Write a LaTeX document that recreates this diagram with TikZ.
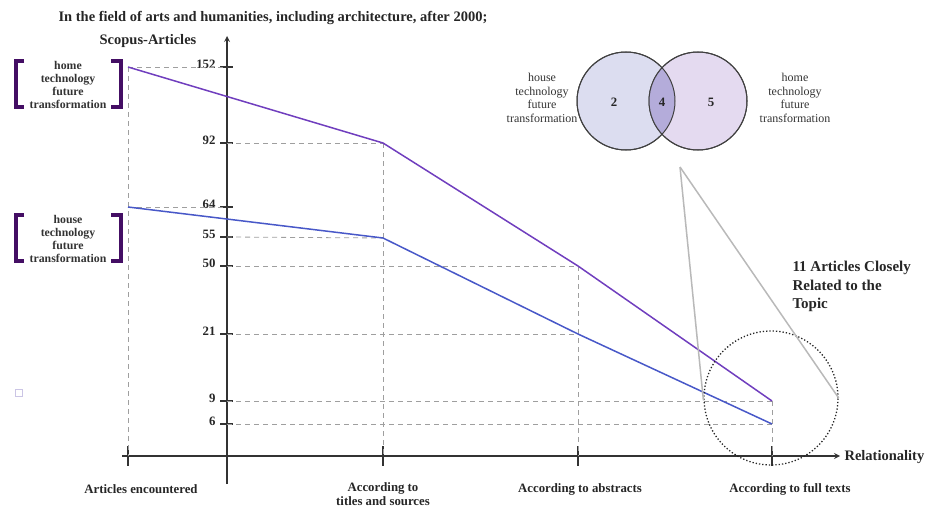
\documentclass[tikz,border=0pt]{standalone}
\usepackage{fontspec}
\setmainfont{Liberation Serif}
\usetikzlibrary{calc}

\definecolor{purpleline}{RGB}{112,62,190}
\definecolor{blueline}{RGB}{72,88,200}
\definecolor{bracketcol}{RGB}{68,14,100}
\definecolor{vennleft}{RGB}{220,221,240}
\definecolor{vennright}{RGB}{228,218,240}
\definecolor{vennmid}{RGB}{180,172,218}

\tikzset{
	axisline/.style = {line width = 1.6pt, draw = black!80},
	guide/.style = {draw = gray!75, line width = 0.8pt, dash pattern = on 5pt off 4pt},
	boldlabel/.style = {font = \bfseries\fontsize{12.8}{13.5}\selectfont, text = black!85},
	biglabel/.style = {font = \bfseries\fontsize{14.5}{16}\selectfont, text = black!85},
	termbox/.style = {font = \bfseries\fontsize{11.8}{13.2}\selectfont, align = center, text = black!80},
	vennterms/.style = {font = \fontsize{12}{13.7}\selectfont, align = center, text = black!80},
	bracket/.style = {draw = bracketcol, line width = 3.5pt},
	venn/.style = {circle, minimum size = 98pt, inner sep = 0pt, draw = black!75, line width = 1pt}
}

\begin{document}
\begin{tikzpicture}[x = 1pt, y = -1pt]
		\useasboundingbox (0,0) rectangle (925,508);
		
		% title and axis names
		\node [biglabel, anchor = west] (title) at (55,18) {In the field of arts and humanities, including architecture, after 2000;};
		\node [biglabel] (ylabel) at (148,41) {Scopus-Articles};
		
		% axes
		\coordinate (ybottom) at (227,484);
		\coordinate (ytop) at (227,36);
		\coordinate (xleft) at (122,456);
		\coordinate (xright) at (840,456);
		\draw [axisline, -stealth] (ybottom) -- (ytop);
		\draw [axisline, -stealth] (xleft) -- (xright);
		\node [biglabel, anchor = west] (xlabel) at (841,457) {Relationality};
		
		% steps on the x axis
		\foreach \name/\x in {s1/128, s2/383, s3/578, s4/772} {
			\coordinate (\name) at (\x,456);
			\draw [axisline, line width = 1.2pt] (\x,446) -- (\x,466);
		}
		\node [boldlabel] (step1) at (141,489) {Articles encountered};
		\node [boldlabel, align = center] (step2) at (383,494) {According to\\titles and sources};
		\node [boldlabel] (step3) at (580,489) {According to abstracts};
		\node [boldlabel] (step4) at (790,489) {According to full texts};
		
		% values on the y axis
		\foreach \v/\y in {152/67, 92/143, 64/207, 55/237, 50/266, 21/334, 9/401, 6/424} {
			\coordinate (y\v) at (227,\y);
			\draw [axisline, line width = 1.2pt] (220,\y) -- (233,\y);
			\node [boldlabel, anchor = east] (t\v) at (219,{\y - 3}) {\v};
		}
		
		% data points
		\coordinate (p1) at (128,67);
		\coordinate (p2) at (383,143);
		\coordinate (p3) at (578,266);
		\coordinate (p4) at (772,401);
		\coordinate (b1) at (128,207);
		\coordinate (b2) at (383,238);
		\coordinate (b3) at (578,334);
		\coordinate (b4) at (772,424);
		
		% guide lines
		\draw [guide] (p1) -- (y152);
		\draw [guide] (b1) -- (y64);
		\draw [guide] (y92) -- (p2);
		\draw [guide] (y55) -- (b2);
		\draw [guide] (y50) -- (p3);
		\draw [guide] (y21) -- (b3);
		\draw [guide] (y9) -- (p4);
		\draw [guide] (y6) -- (b4);
		\draw [guide] (p1) -- (s1);
		\draw [guide] (p2) -- (s2);
		\draw [guide] (p3) -- (s3);
		\draw [guide] (p4) -- (s4);
		
		% the two lines
		\draw [purpleline, line width = 1.5pt] (p1) -- (p2) -- (p3) -- (p4);
		\draw [blueline, line width = 1.5pt] (b1) -- (b2) -- (b3) -- (b4);
		
		% keyword groups
		\node [termbox] (hometerms) at (68,85) {home\\technology\\future\\transformation};
		\draw [bracket] (24,61) -- (16,61) -- (16,107) -- (24,107);
		\draw [bracket] (111,61) -- (121,61) -- (121,107) -- (111,107);
		\node [termbox] (houseterms) at (68,239) {house\\technology\\future\\transformation};
		\draw [bracket] (24,215) -- (16,215) -- (16,261) -- (24,261);
		\draw [bracket] (111,215) -- (121,215) -- (121,261) -- (111,261);
		
		\draw [draw = vennmid!70, line width = 0.8pt] (15,389) rectangle (22,396);
		
		% venn diagram
		\node [venn, fill = vennleft] (setA) at (626,101) {};
		\node [venn, fill = vennright] (setB) at (698,101) {};
		\begin{scope}
			\clip (626,101) circle (49pt);
			\fill [vennmid] (698,101) circle (49pt);
		\end{scope}
		\draw [black!75, line width = 1pt] (setA.center) circle (49pt);
		\draw [black!75, line width = 1pt] (setB.center) circle (49pt);
		\node [boldlabel] (onlyA) at (614,102) {2};
		\node [boldlabel] (both) at (662,102) {4};
		\node [boldlabel] (onlyB) at (711,102) {5};
		\node [vennterms] (houselabel) at (542,98) {house\\technology\\future\\transformation};
		\node [vennterms] (homelabel) at (795,98) {home\\technology\\future\\transformation};
		
		% zoom circle
		\node [circle, minimum size = 134pt, inner sep = 0pt, draw = black!85, line width = 1.3pt, dotted] (focus) at (771,398) {};
		\coordinate (apex) at (680,167);
		\draw [gray!55, line width = 1.5pt] (apex) -- (focus.182);
		\draw [gray!55, line width = 1.5pt] (apex) -- (focus.east);
		\node [biglabel, font = \bfseries\fontsize{15}{18.5}\selectfont, align = left, anchor = north west] (result) at (789,258) {11 Articles Closely\\Related to the\\Topic};
	\end{tikzpicture}
\end{document}
